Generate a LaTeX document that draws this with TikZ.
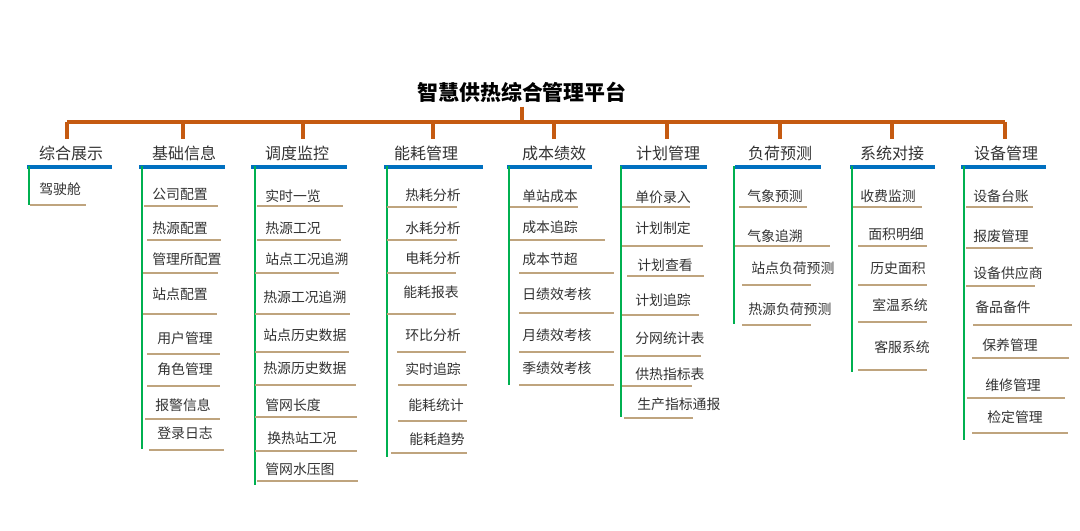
\documentclass[tikz,border=0pt]{standalone}
\usepackage{fontspec}
\setmainfont{Noto Sans CJK SC}
\usepackage{xcolor}
\usepackage{tikz}
\usetikzlibrary{positioning}

\definecolor{busorange}{HTML}{C55A11}
\definecolor{headblue}{HTML}{0070C0}
\definecolor{listgreen}{HTML}{00B050}
\definecolor{linetan}{HTML}{BFA47E}
\definecolor{textgray}{HTML}{333333}

\begin{document}
\begin{tikzpicture}[
  x=0.75pt, y=-0.75pt,
  title/.style={font=\bfseries\fontsize{15.7pt}{18pt}\selectfont, text=black, inner sep=3pt},
  head/.style={font=\fontsize{12pt}{14pt}\selectfont, text=textgray, inner ysep=5pt, inner xsep=0pt},
  item/.style={font=\fontsize{10.4pt}{12pt}\selectfont, text=textgray, inner sep=0pt, anchor=west},
  bus/.style={busorange, line width=2.4pt, line join=round},
  blueline/.style={headblue, line width=2.3pt},
  greenline/.style={listgreen, line width=2.2pt},
  uline/.style={linetan, line width=1.5pt},
]
  \fill[white] (0,0) rectangle (1080,531);
  \useasboundingbox (0,0) rectangle (1080,531);

  \node[title] (title) at (522,92) {智慧供热综合管理平台};

  % Headers
  \foreach \n/\dx/\cx/\bl/\br/\gx/\gy/\txt in {
      1/67/71/27/112/29/205/综合展示,
      2/183/184/139/225/142/449/基础信息,
      3/303/297/251/347/255/485/调度监控,
      4/433/426/384/483/387/457/能耗管理,
      5/554/554/507/592/509/385/成本绩效,
      6/667/668/620/707/621/417/计划管理,
      7/780/780/735/821/734/324/负荷预测,
      8/892/892/850/935/852/372/系统对接,
      9/1005/1006/961/1046/964/440/设备管理}{
    \node[head] (h\n) at (\cx,153) {\txt};
    \coordinate (d\n) at (\dx,122);
    \draw[bus] (d\n) -- (d\n |- h\n.north);
    \draw[blueline] (\bl,167) -- (\br,167);
    \draw[greenline] (\gx,166) -- (\gx,\gy);
  }

  % Bus
  \draw[bus] (d1) -- (d9);
  \draw[bus] (title.south) -- (title.south |- d1);

  % Items
  \foreach \tx/\ty/\ua/\ub/\uy/\txt [count=\i] in {
      39/189/30/86/205/驾驶舱,
      152/194/144/218/206/公司配置,
      152/228/147/221/240/热源配置,
      152/259/143/218/273/管理所配置,
      152/294/143/217/314/站点配置,
      157/338/147/220/354/用户管理,
      157/369/147/220/386/角色管理,
      155/405/145/220/419/报警信息,
      157/433/149/224/450/登录日志,
      265/196/257/343/206/实时一览,
      265/228/257/341/240/热源工况,
      265/259/255/339/273/站点工况追溯,
      263/297/255/350/314/热源工况追溯,
      263/335/255/349/352/站点历史数据,
      263/368/255/356/385/热源历史数据,
      265/405/255/357/417/管网长度,
      267/438/255/357/451/换热站工况,
      265/469/257/358/481/管网水压图,
      405/195/387/457/207/热耗分析,
      405/228/387/457/240/水耗分析,
      405/258/387/456/273/电耗分析,
      403/292/387/456/314/能耗报表,
      405/335/397/466/352/环比分析,
      405/369/398/467/385/实时追踪,
      408/405/398/467/421/能耗统计,
      409/439/391/467/453/能耗趋势,
      522/196/510/578/207/单站成本,
      522/227/510/605/240/成本追踪,
      522/259/519/614/273/成本节超,
      522/294/519/614/313/日绩效考核,
      522/335/519/614/352/月绩效考核,
      522/368/519/614/385/季绩效考核,
      635/197/622/690/207/单价录入,
      635/228/622/703/246/计划制定,
      637/265/627/704/276/计划查看,
      635/300/622/699/315/计划追踪,
      635/338/624/701/356/分网统计表,
      635/374/622/692/386/供热指标表,
      637/404/624/693/418/生产指标通报,
      747/196/739/807/207/气象预测,
      747/236/735/830/246/气象追溯,
      751/268/742/811/285/站点负荷预测,
      748/309/742/811/325/热源负荷预测,
      860/196/853/922/207/收费监测,
      868/234/858/927/246/面积明细,
      870/268/858/927/285/历史面积,
      872/305/858/927/322/室温系统,
      874/347/858/927/370/客服系统,
      973/196/966/1033/207/设备台账,
      973/236/966/1033/248/报废管理,
      973/273/966/1035/286/设备供应商,
      975/307/973/1072/325/备品备件,
      982/345/972/1069/358/保养管理,
      985/385/967/1065/398/维修管理,
      987/417/972/1068/433/检定管理}{
    \node[item] (it\i) at (\tx,\ty) {\txt};
    \draw[uline] (\ua,\uy) -- (\ub,\uy);
  }
\end{tikzpicture}
\end{document}
